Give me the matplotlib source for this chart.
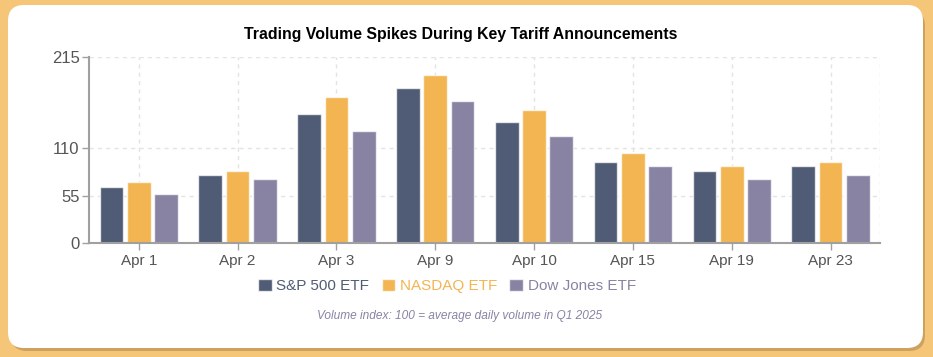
import matplotlib.pyplot as plt
import numpy as np
from matplotlib.patches import FancyBboxPatch
from matplotlib.transforms import IdentityTransform

plt.rcParams['font.family'] = ['Liberation Sans', 'DejaVu Sans']

# data
dates = ["Apr 1", "Apr 2", "Apr 3", "Apr 9", "Apr 10", "Apr 15", "Apr 19", "Apr 23"]
sp500 = [65, 79, 150, 179, 140, 94, 84, 89]
nasdaq = [71, 84, 169, 195, 154, 104, 89, 94]
dowjones = [57, 74, 130, 164, 124, 89, 74, 79]
series_names = ["S&P 500 ETF", "NASDAQ ETF", "Dow Jones ETF"]
yticks = [0, 55, 110, 215]

colors = ["#505c75", "#f2b552", "#8983a3"]

W, H = 933, 357
fig = plt.figure(figsize=(W / 100, H / 100), dpi=100)
fig.patch.set_facecolor("#f5c677")

# card shadow + white card (pixel coords, origin bottom-left)
shadow = FancyBboxPatch((11, 357 - 351), 914, 341,
                        boxstyle="round,pad=0,rounding_size=16",
                        transform=IdentityTransform(), facecolor="#c99d5c",
                        edgecolor="none", alpha=0.9, zorder=0)
card = FancyBboxPatch((8, 357 - 348), 915, 343,
                      boxstyle="round,pad=0,rounding_size=16",
                      transform=IdentityTransform(), facecolor="white",
                      edgecolor="none", zorder=1)
fig.patches.extend([shadow, card])

ax = fig.add_axes([89.3 / W, 1 - 243.3 / H, (880 - 89.3) / W, (243.3 - 57.3) / H])
ax.set_facecolor("none")
ax.set_zorder(2)

x = np.arange(len(dates))
step = 0.276
width = 0.24
for i, (vals, name) in enumerate(zip([sp500, nasdaq, dowjones], series_names)):
    ax.bar(x + (i - 1) * step, vals, width, color=colors[i], label=name,
           edgecolor=(1, 1, 1, 0.7), linewidth=1, zorder=3)

ax.set_xlim(-0.5, len(dates) - 0.5)
ax.set_ylim(0, 215)
ax.set_yticks(yticks)
ax.set_xticks(x)
ax.set_xticklabels(dates)

grid_kw = dict(color="#e3e3e3", linewidth=1, linestyle=(0, (3, 3)), zorder=1)
for yv in yticks[1:]:
    ax.axhline(yv, **grid_kw)
for xv in list(x) + [len(dates) - 0.5]:
    ax.axvline(xv, **grid_kw)

for side in ["top", "right"]:
    ax.spines[side].set_visible(False)
for side in ["left", "bottom"]:
    ax.spines[side].set_color("#a0a0a0")
    ax.spines[side].set_linewidth(1.5)
    ax.spines[side].set_zorder(4)

ax.tick_params(axis="both", colors="#a0a0a0", length=5, width=1,
               labelsize=11, labelcolor="#555555")
ax.tick_params(axis="y", labelsize=12, pad=2)
ax.tick_params(axis="x", pad=3)

fig.text(461 / W, 1 - 35 / H, "Trading Volume Spikes During Key Tariff Announcements",
         ha="center", va="center", fontsize=11.4, fontweight="bold", color="black")

leg = fig.legend(loc="center", bbox_to_anchor=(447 / W, 1 - 286 / H), ncol=3,
                 frameon=False, fontsize=11, handlelength=0.9, handleheight=0.9,
                 handletextpad=0.3, columnspacing=0.8)
for txt, c in zip(leg.get_texts(), ["#505c75", "#f2b552", "#8983a3"]):
    txt.set_color(c)

fig.text(460 / W, 1 - 316 / H, "Volume index: 100 = average daily volume in Q1 2025",
         ha="center", va="center", fontsize=8.6, style="italic", color="#8983a3")

fig.savefig("out.png", dpi=100, facecolor=fig.get_facecolor())
